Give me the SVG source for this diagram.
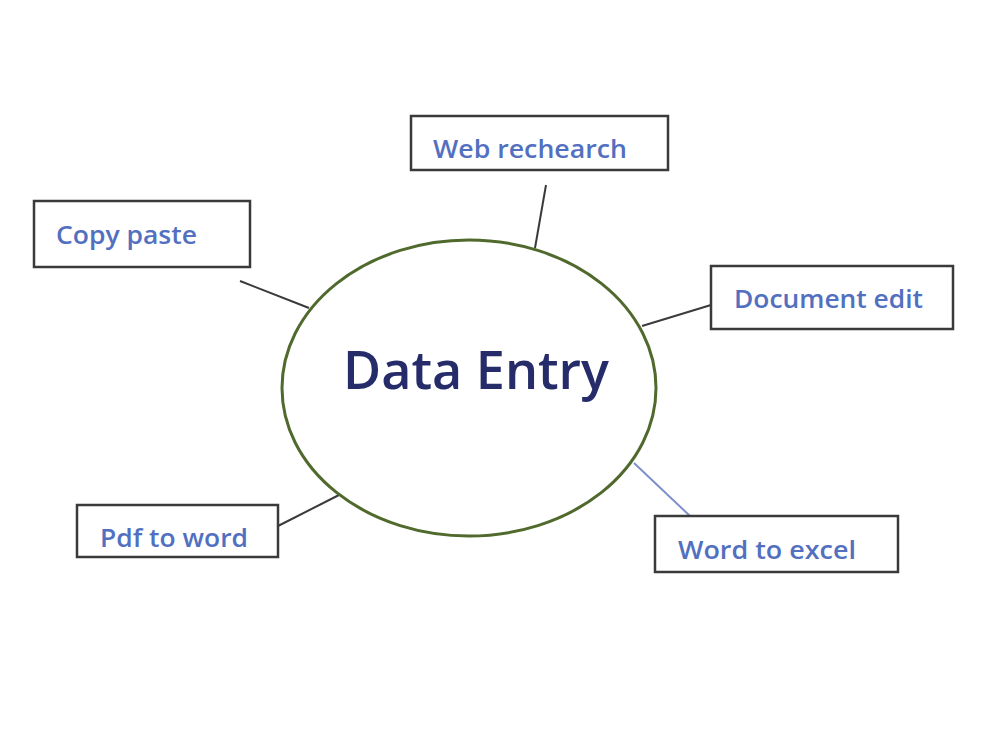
<svg xmlns="http://www.w3.org/2000/svg" width="1000" height="750" viewBox="0 0 1000 750">
<style>
.box{fill:#ffffff;stroke:#3a3a3a;stroke-width:2.5}
.lbl{font-family:"Open Sans","Noto Sans","Liberation Sans",sans-serif;font-size:25px;fill:#5270bf;font-weight:600}
.conn{stroke:#3a3a3a;stroke-width:2;fill:none}
</style>
<rect width="1000" height="750" fill="#ffffff"/>
<g id="connectors">
<line class="conn" x1="546" y1="185" x2="535" y2="248"/>
<line class="conn" x1="240" y1="281" x2="309" y2="308"/>
<line class="conn" x1="711" y1="305" x2="642" y2="326"/>
<line class="conn" x1="278" y1="526" x2="339" y2="495"/>
<line class="conn" x1="634" y1="463" x2="690" y2="516" style="stroke:#7d90c9"/>
</g>
<g id="center">
<ellipse cx="469" cy="388" rx="187" ry="148" fill="#ffffff" stroke="#4f6a2c" stroke-width="3"/>
<text x="343" y="389" font-family="Open Sans,Noto Sans,sans-serif" font-size="53" font-weight="600" fill="#262c6a" textLength="266" lengthAdjust="spacingAndGlyphs">Data Entry</text>
</g>
<g id="web">
<rect class="box" x="411" y="116" width="257" height="54"/>
<text class="lbl" x="433" y="158" textLength="194" lengthAdjust="spacingAndGlyphs">Web rechearch</text>
</g>
<g id="copy">
<rect class="box" x="34" y="201" width="216" height="66"/>
<text class="lbl" x="56" y="244" textLength="141" lengthAdjust="spacingAndGlyphs">Copy paste</text>
</g>
<g id="doc">
<rect class="box" x="711" y="266" width="242" height="63"/>
<text class="lbl" x="734" y="308" textLength="189" lengthAdjust="spacingAndGlyphs">Document edit</text>
</g>
<g id="pdf">
<rect class="box" x="77" y="505" width="201" height="52"/>
<text class="lbl" x="100" y="547" textLength="148" lengthAdjust="spacingAndGlyphs">Pdf to word</text>
</g>
<g id="excel">
<rect class="box" x="655" y="516" width="243" height="56"/>
<text class="lbl" x="678" y="559" textLength="178" lengthAdjust="spacingAndGlyphs">Word to excel</text>
</g>
</svg>
